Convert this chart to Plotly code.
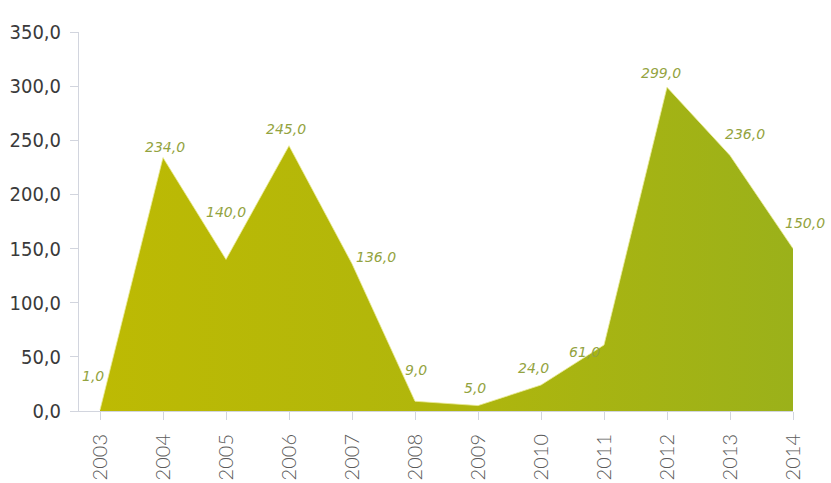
import plotly.graph_objects as go

years = list(range(2003, 2015))
values = [1, 234, 140, 245, 136, 9, 5, 24, 61, 299, 236, 150]
value_labels = ["1,0", "234,0", "140,0", "245,0", "136,0", "9,0", "5,0",
                "24,0", "61,0", "299,0", "236,0", "150,0"]
y_ticks = [0, 50, 100, 150, 200, 250, 300, 350]
y_tick_text = ["0,0", "50,0", "100,0", "150,0", "200,0", "250,0", "300,0", "350,0"]

# label offsets (px) relative to each data point
label_dx = [-7, 2, 0, -3, 24, 1, -3, -8, -20, -6, 15, 12]
label_dy = [34, 11, 47, 17, 7, 31, 18, 17, -7, 14, 21, 26]

fig = go.Figure()
fig.add_trace(go.Scatter(
    x=years, y=values, mode="lines", fill="tozeroy",
    line=dict(color="rgba(235,235,150,0.8)", width=1),
    fillgradient=dict(type="horizontal",
                      colorscale=[[0, "#bdba03"], [0.5, "#b0b60c"], [1, "#9bb11a"]]),
    hoverinfo="skip", showlegend=False,
))

for x, y, t, dx, dy in zip(years, values, value_labels, label_dx, label_dy):
    fig.add_annotation(
        x=x, y=y, text=f"<i>{t}</i>", showarrow=False,
        xshift=dx, yshift=dy,
        font=dict(family="DejaVu Sans", size=14, color="#93a340"),
    )

fig.update_layout(
    width=831, height=483,
    margin=dict(l=79, r=38, t=32, b=72),
    paper_bgcolor="white", plot_bgcolor="white",
    xaxis=dict(
        range=[2003 - 21 / 63, 2014], tickmode="array", tickvals=years,
        ticktext=[str(y) for y in years], tickangle=-90,
        showgrid=False, zeroline=False, automargin=False,
        showline=True, linecolor="#d2d5de", linewidth=1,
        ticks="outside", ticklen=8, tickcolor="#d2d5de",
        ticklabelstandoff=6,
        tickfont=dict(family="Lato", size=20, weight=300, color="#5a5a5a"),
    ),
    yaxis=dict(
        range=[0, 350], tickmode="array", tickvals=y_ticks, ticktext=y_tick_text,
        showgrid=False, zeroline=False, automargin=False,
        showline=True, linecolor="#d2d5de", linewidth=1,
        ticks="outside", ticklen=8, tickcolor="#d2d5de",
        ticklabelstandoff=5,
        tickfont=dict(family="DejaVu Sans Condensed, Roboto", size=20, color="#3a3a3a"),
    ),
)

fig.write_html("out.html")
